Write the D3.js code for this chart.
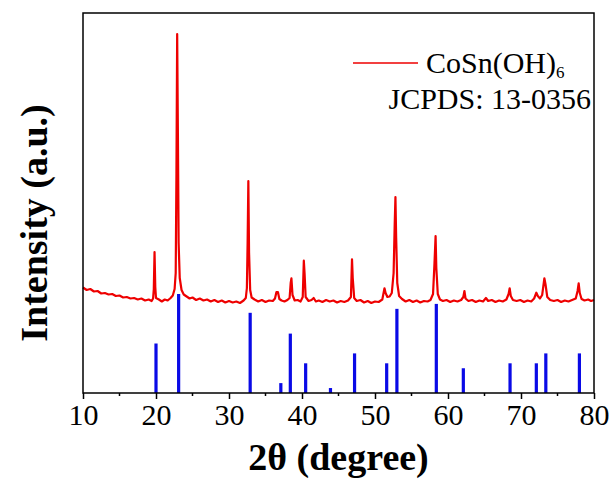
<!DOCTYPE html>
<html lang="en">
<head>
<meta charset="UTF-8">
<title>CoSn(OH)6 XRD</title>
<script src="https://d3js.org/d3.v7.min.js"></script>
<style>
    body { margin: 0; background: #fff; }
    svg { display: block; }
    svg text { font-family: "Liberation Serif", "Times New Roman", "DejaVu Serif", serif; }
</style>
</head>
<body>
<script>
// measured pattern, 2theta (deg) and counts
const twoTheta = [10.0, 10.5, 11.0, 11.5, 12.0, 12.5, 13.0, 13.5, 14.0, 14.5, 15.0, 15.5, 16.0, 16.5, 17.0, 17.5, 18.0, 18.5, 19.0, 19.4,
    19.6, 19.7, 19.8, 19.9, 20.0, 20.4, 20.8, 21.2, 21.6, 22.0, 22.3, 22.55, 22.7, 22.8, 22.9, 23.0, 23.1, 23.25, 23.5, 23.8,
    24.2, 24.6, 25.0, 25.5, 26.0, 26.5, 27.0, 27.5, 28.0, 28.5, 29.0, 29.5, 30.0, 30.5, 31.0, 31.5, 32.0, 32.3, 32.45, 32.55,
    32.65, 32.75, 32.9, 33.1, 33.5, 34.0, 34.5, 35.0, 35.5, 36.0, 36.3, 36.5, 36.7, 36.9, 37.2, 37.6, 38.0, 38.3, 38.45, 38.55,
    38.7, 39.0, 39.4, 39.8, 40.1, 40.25, 40.35, 40.5, 40.9, 41.3, 41.6, 41.9, 42.3, 42.8, 43.3, 43.8, 44.3, 44.8, 45.3, 45.8,
    46.3, 46.7, 46.85, 46.95, 47.15, 47.5, 48.0, 48.5, 49.0, 49.5, 50.0, 50.5, 51.0, 51.3, 51.45, 51.7, 52.0, 52.3, 52.55, 52.7,
    52.8, 52.9, 53.05, 53.3, 53.7, 54.2, 54.7, 55.2, 55.7, 56.2, 56.7, 57.2, 57.6, 57.95, 58.15, 58.3, 58.4, 58.6, 58.9, 59.3,
    59.8, 60.3, 60.8, 61.3, 61.8, 62.1, 62.25, 62.4, 62.8, 63.3, 63.8, 64.3, 64.8, 65.2, 65.5, 66.0, 66.5, 67.0, 67.5, 68.0,
    68.3, 68.45, 68.6, 68.9, 69.4, 69.9, 70.4, 70.9, 71.4, 71.8, 72.1, 72.3, 72.6, 72.9, 73.2, 73.35, 73.6, 74.0, 74.5, 75.0,
    75.5, 76.0, 76.5, 77.0, 77.5, 77.75, 77.9, 78.05, 78.3, 78.7, 79.2, 79.6, 80.0];
const counts = [1055, 1030, 1040, 1015, 1020, 995, 1000, 985, 990, 970, 975, 955, 960, 945, 950, 935, 945, 925, 935, 920,
    945, 1040, 1410, 1060, 950, 935, 915, 935, 925, 950, 975, 1040, 1200, 2200, 3590, 2600, 1500, 1150, 1030, 985,
    965, 945, 955, 930, 945, 925, 935, 915, 930, 910, 925, 905, 920, 905, 915, 900, 925, 950, 1050, 1500,
    2120, 1400, 1030, 955, 935, 915, 930, 910, 925, 920, 945, 1010, 1010, 940, 925, 915, 930, 950, 1100, 1147,
    980, 925, 930, 915, 960, 1323, 1200, 960, 920, 930, 950, 915, 925, 910, 930, 915, 925, 905, 920, 910,
    925, 960, 1337, 1150, 950, 920, 930, 905, 920, 900, 915, 910, 935, 1047, 1000, 960, 965, 1000, 1200, 1690,
    1960, 1550, 1100, 970, 940, 915, 930, 910, 925, 905, 920, 915, 930, 990, 1300, 1570, 1250, 990, 935, 920,
    930, 910, 925, 915, 930, 960, 1020, 945, 920, 930, 910, 925, 915, 950, 920, 930, 910, 925, 915, 935,
    990, 1047, 970, 930, 920, 930, 910, 925, 915, 945, 1003, 970, 945, 980, 1147, 1090, 960, 930, 920, 930,
    910, 925, 915, 930, 945, 1020, 1097, 1000, 940, 925, 935, 920, 930];

// JCPDS 13-0356 reference lines
const refPos = [20.0, 23.1, 32.9, 37.1, 38.4, 40.5, 43.9, 47.2, 51.6, 53.0, 58.4, 62.1, 68.5, 72.1, 73.4, 78.0];
const refInt = [50, 100, 81, 10, 60, 30, 5, 40, 30, 85, 90, 25, 30, 30, 40, 40];

const xTicks = [10, 20, 30, 40, 50, 60, 70, 80];
const xMinor = [15, 25, 35, 45, 55, 65, 75];

const W = 614, H = 483;
const mLeft = 83, mRight = 594, mTop = 13, mBottom = 393;
const serif = "'Liberation Serif', 'Times New Roman', 'DejaVu Serif', serif";

const svg = d3.select("body").append("svg")
    .attr("width", W)
    .attr("height", H);

const x = d3.scaleLinear().domain([10, 80]).range([mLeft, mRight]);
const y = d3.scaleLinear().domain([0, 3800]).range([mBottom, mTop]);
const yRef = d3.scaleLinear().domain([0, 100]).range([mBottom, mBottom - 99]);

// reference sticks
svg.selectAll("rect.ref")
    .data(refPos)
    .enter()
    .append("rect")
    .attr("class", "ref")
    .attr("x", d => x(d) - 1.6)
    .attr("y", (d, i) => yRef(refInt[i]))
    .attr("width", 3.2)
    .attr("height", (d, i) => mBottom - yRef(refInt[i]))
    .attr("fill", "#0a0ae6");

// pattern
const line = d3.line()
    .x(d => x(d[0]))
    .y(d => y(d[1]));

svg.append("path")
    .datum(d3.zip(twoTheta, counts))
    .attr("d", line)
    .attr("fill", "none")
    .attr("stroke", "#ee0000")
    .attr("stroke-width", 2.2)
    .attr("stroke-linejoin", "round");

// frame
svg.append("rect")
    .attr("x", mLeft)
    .attr("y", mTop)
    .attr("width", mRight - mLeft)
    .attr("height", mBottom - mTop)
    .attr("fill", "none")
    .attr("stroke", "#000")
    .attr("stroke-width", 1.5);

// bottom axis
const xAxis = d3.axisBottom(x)
    .tickValues(xTicks)
    .tickSize(6)
    .tickPadding(5)
    .tickFormat(d3.format("d"));

const gx = svg.append("g")
    .attr("transform", "translate(0," + mBottom + ")")
    .call(xAxis)
    .attr("font-family", serif)
    .attr("font-size", 30);
gx.select(".domain").remove();
gx.selectAll("line").attr("stroke-width", 1.5);
gx.selectAll("text")
    .style("font-family", serif)
    .style("font-size", "30px")
    .attr("fill", "#000");

svg.append("g")
    .selectAll("line")
    .data(xMinor)
    .enter()
    .append("line")
    .attr("x1", d => x(d))
    .attr("x2", d => x(d))
    .attr("y1", mBottom)
    .attr("y2", mBottom + 3)
    .attr("stroke", "#000")
    .attr("stroke-width", 1.5);

// axis titles
svg.append("text")
    .attr("x", (mLeft + mRight) / 2)
    .attr("y", 470)
    .attr("text-anchor", "middle")
    .style("font-family", serif)
    .style("font-weight", "bold")
    .style("font-size", "38px")
    .text("2θ (degree)");

svg.append("text")
    .attr("transform", "translate(47," + ((mTop + mBottom) / 2 + 20) + ") rotate(-90)")
    .attr("text-anchor", "middle")
    .style("font-family", serif)
    .style("font-weight", "bold")
    .style("font-size", "38px")
    .text("Intensity (a.u.)");

// legend
svg.append("line")
    .attr("x1", 353)
    .attr("x2", 418)
    .attr("y1", 63)
    .attr("y2", 63)
    .attr("stroke", "#ee0000")
    .attr("stroke-width", 1.5);

const lg = svg.append("text")
    .attr("x", 426)
    .attr("y", 73)
    .style("font-family", serif)
    .style("font-size", "30px");
lg.append("tspan").text("CoSn(OH)");
lg.append("tspan").style("font-size", "17px").attr("dy", 5).text("6");

svg.append("text")
    .attr("x", 591)
    .attr("y", 109)
    .attr("text-anchor", "end")
    .style("font-family", serif)
    .style("font-size", "30px")
    .text("JCPDS: 13-0356");
</script>
</body>
</html>
